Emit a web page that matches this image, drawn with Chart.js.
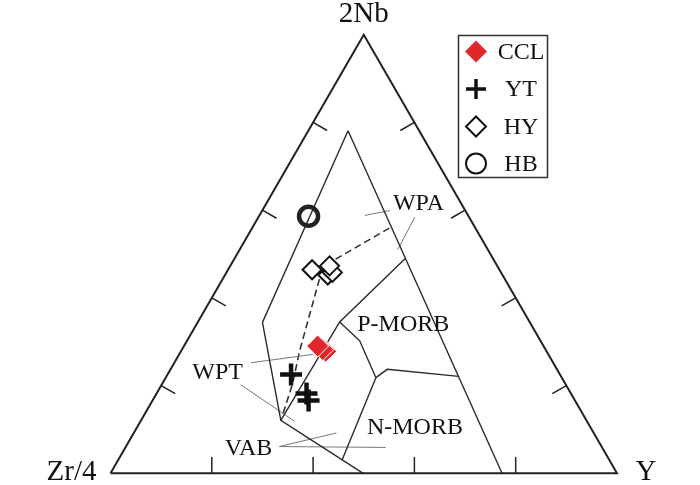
<!DOCTYPE html>
<html>
<head>
<meta charset="utf-8">
<script src="https://cdn.jsdelivr.net/npm/chart.js@4.4.1/dist/chart.umd.min.js"></script>
<style>
  body { margin: 0; background: #fff; }
  canvas { display: block; }
</style>
</head>
<body>
<canvas id="ternary" width="700" height="485"></canvas>
<script>
// sample compositions, in % (Zr/4 = 100 - 2Nb - Y)
const cclNb = [27.8, 28.2, 29.0];
const cclY = [28.6, 27.8, 26.4];
const ytNb = [22.5, 18.2, 16.6];
const ytY = [24.4, 29.6, 30.8];
const hyNb = [45.2, 45.8, 47.3, 46.4];
const hyY = [20.3, 20.9, 19.6, 16.6];
const hbNb = [58.6];
const hbY = [9.8];

// dashed trend through the groups
const trendNb = [55.9, 48.5, 44.3, 35.9, 27.5, 20.6, 13.0];
const trendY = [27.1, 19.7, 19.1, 21.3, 23.5, 25.7, 27.4];

// field boundaries, vertices as [2Nb, Y]
const fieldLines = [
  [[78.1, 7.85], [34.4, 12.8], [12.05, 27.6], [0, 49.9]],
  [[78.1, 7.85], [0, 77.3]],
  [[12.05, 27.6], [34.5, 28.0], [48.9, 33.7]],
  [[34.5, 28.0], [30.2, 34.1], [21.8, 41.5]],
  [[21.8, 41.5], [23.7, 42.8], [22.1, 57.7]],
  [[21.8, 41.5], [3.0, 44.2]]
];
// thin pointer lines from the field names
const leaderLines = [
  [[58.8, 20.8], [59.9, 25.2]],
  [[58.4, 30.9], [51.0, 31.2]],
  [[25.2, 15.1], [27.1, 26.4]],
  [[20.2, 15.6], [11.8, 30.5]],
  [[6.1, 30.3], [9.2, 40.0]],
  [[6.1, 30.3], [5.9, 51.4]]
];
const fieldNames = ["WPA", "P-MORB", "N-MORB", "WPT", "VAB"];
const fieldNameNb = [61.4, 33.8, 10.4, 22.9, 5.5];
const fieldNameY = [30.1, 40.9, 54.9, 9.7, 24.5];

const tickSteps = [20, 40, 60, 80];
const cornerNames = ["Zr/4", "2Nb", "Y"];
const seriesNames = ["CCL", "YT", "HY", "HB"];

const SIN60 = Math.sqrt(3) / 2;
const SERIF = '"Liberation Serif", "Times New Roman", serif';

// ternary (2Nb, Y) -> cartesian, triangle side = 100
function toXY(nb, y) {
  return { x: y + nb / 2, y: nb * SIN60 };
}
function pts(nbs, ys) {
  return nbs.map((nb, i) => toXY(nb, ys[i]));
}

function line(data, color, width, dash) {
  return {
    data: data,
    showLine: true,
    borderColor: color,
    borderWidth: width,
    borderDash: dash || [],
    pointRadius: 0,
    fill: false,
    order: 10
  };
}

const datasets = [];

// outline
datasets.push(line([toXY(0, 0), toXY(0, 100), toXY(100, 0), toXY(0, 0)], "#222", 2));

// ticks, perpendicular to each side, pointing inward
const TICK = 3.2;
tickSteps.forEach((f) => {
  const b = toXY(0, f);
  datasets.push(line([b, { x: b.x, y: b.y + TICK }], "#222", 1.5));
  const l = toXY(f, 0);
  datasets.push(line([l, { x: l.x + TICK * SIN60, y: l.y - TICK / 2 }], "#222", 1.5));
  const r = toXY(f, 100 - f);
  datasets.push(line([r, { x: r.x - TICK * SIN60, y: r.y - TICK / 2 }], "#222", 1.5));
});

fieldLines.forEach((seg) => {
  datasets.push(line(seg.map((p) => toXY(p[0], p[1])), "#2a2a2a", 1.4));
});
leaderLines.forEach((seg) => {
  datasets.push(line(seg.map((p) => toXY(p[0], p[1])), "#777", 1));
});

datasets.push(line(pts(trendNb, trendY), "#333", 1.6, [7, 4]));

// samples
datasets.push({
  label: "HB", data: pts(hbNb, hbY), pointStyle: "circle", pointRadius: 9.5,
  pointBackgroundColor: "rgba(0,0,0,0)", pointBorderColor: "#222", pointBorderWidth: 4.5, order: 1
});
datasets.push({
  label: "HY", data: pts(hyNb, hyY), pointStyle: "rectRot", pointRadius: 9.5,
  pointBackgroundColor: "#fff", pointBorderColor: "#111", pointBorderWidth: 2, order: 1
});
datasets.push({
  label: "YT", data: pts(ytNb, ytY), pointStyle: "cross", pointRadius: 11,
  pointBorderColor: "#111", pointBorderWidth: 4.5, order: 1
});
datasets.push({
  label: "CCL", data: pts(cclNb, cclY), pointStyle: "rectRot", pointRadius: 11,
  pointBackgroundColor: "#e0282c", pointBorderColor: "#fff", pointBorderWidth: 1, order: 0
});

function marker(ctx, style, x, y, r) {
  ctx.beginPath();
  if (style === "diamond") {
    ctx.moveTo(x, y - r); ctx.lineTo(x + r, y); ctx.lineTo(x, y + r); ctx.lineTo(x - r, y);
    ctx.closePath();
  } else if (style === "cross") {
    ctx.moveTo(x - r, y); ctx.lineTo(x + r, y); ctx.moveTo(x, y - r); ctx.lineTo(x, y + r);
  } else {
    ctx.arc(x, y, r, 0, Math.PI * 2);
  }
}

const labelsPlugin = {
  id: "ternaryText",
  afterDatasetsDraw(chart) {
    const ctx = chart.ctx;
    const sx = chart.scales.x, sy = chart.scales.y;
    const px = (p) => ({ x: sx.getPixelForValue(p.x), y: sy.getPixelForValue(p.y) });
    ctx.save();
    ctx.fillStyle = "#111";
    ctx.textAlign = "center";
    ctx.textBaseline = "middle";

    // corner names
    ctx.font = "29px " + SERIF;
    const zr = px(toXY(0, 0)), nb = px(toXY(100, 0)), yy = px(toXY(0, 100));
    ctx.fillText(cornerNames[0], zr.x - 39, zr.y - 1);
    ctx.fillText(cornerNames[1], nb.x, nb.y - 20);
    ctx.fillText(cornerNames[2], yy.x + 29, yy.y - 1);

    // field names
    ctx.font = "24px " + SERIF;
    fieldNames.forEach((name, i) => {
      const p = px(toXY(fieldNameNb[i], fieldNameY[i]));
      ctx.fillText(name, p.x, p.y);
    });

    // legend box
    ctx.strokeStyle = "#333";
    ctx.lineWidth = 1.5;
    ctx.strokeRect(458.5, 35.5, 89, 142);
    const rows = [51.5, 89, 126.5, 163.5];
    const mx = 476;
    ctx.font = "24px " + SERIF;
    seriesNames.forEach((name, i) => {
      ctx.fillStyle = "#111";
      ctx.fillText(name, 521, rows[i] + 1);
    });
    // CCL
    marker(ctx, "diamond", mx, rows[0], 11);
    ctx.fillStyle = "#e0282c"; ctx.fill();
    // YT
    marker(ctx, "cross", mx, rows[1], 10);
    ctx.strokeStyle = "#111"; ctx.lineWidth = 3.5; ctx.stroke();
    // HY
    marker(ctx, "diamond", mx, rows[2], 10);
    ctx.fillStyle = "#fff"; ctx.fill();
    ctx.lineWidth = 2; ctx.stroke();
    // HB
    marker(ctx, "circle", mx, rows[3], 10);
    ctx.lineWidth = 2; ctx.stroke();
    ctx.restore();
  }
};

new Chart(document.getElementById("ternary"), {
  type: "scatter",
  data: { datasets: datasets },
  options: {
    responsive: false,
    animation: false,
    events: [],
    layout: { padding: 0, autoPadding: false },
    scales: {
      x: { type: "linear", display: false, min: -21.82, max: 116.39 },
      y: { type: "linear", display: false, min: -2.31, max: 93.45 }
    },
    elements: { line: { tension: 0 } },
    plugins: { legend: { display: false }, tooltip: { enabled: false } }
  },
  plugins: [labelsPlugin]
});
</script>
</body>
</html>
